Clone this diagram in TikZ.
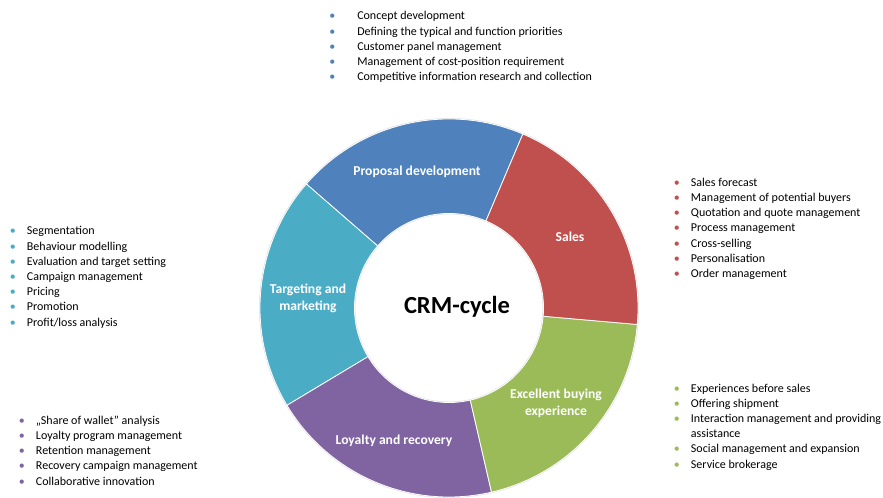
\documentclass[tikz,border=0pt]{standalone}
\usepackage{fontspec}
\setmainfont{Carlito}
\usepackage{xcolor}
\usepackage{tikz}
\usetikzlibrary{positioning}

\definecolor{propblue}{HTML}{4F81BD}
\definecolor{salesred}{HTML}{C0504D}
\definecolor{buygreen}{HTML}{9BBB59}
\definecolor{loyalpurple}{HTML}{8064A2}
\definecolor{targetcyan}{HTML}{4BACC6}

% ring radii
\newcommand{\ringout}{141.75pt}
\newcommand{\ringin}{70.9pt}

% one bullet line: [box width]{bullet colour}{text}
\newcommand{\itm}[3][21pt]{\makebox[#1][c]{\textcolor{#2}{\textbullet}}#3}

% one piece of the ring: {start angle}{end angle}{colour}
\newcommand{\ringpiece}[3]{%
  \fill[#3, seg] (#1:\ringout) arc[start angle=#1, end angle=#2, radius=\ringout]
    -- (#2:\ringin) arc[start angle=#2, end angle=#1, radius=\ringin] -- cycle;}

\begin{document}
\begin{tikzpicture}[
  x=0.75pt, y=0.75pt,
  seg/.style={draw=white, line width=0.6pt},
  seglbl/.style={text=white, align=center,
    font=\fontsize{10.2}{12.9}\selectfont\bfseries},
  hub/.style={font=\fontsize{18.4}{22}\selectfont\bfseries},
  blist/.style={anchor=north west, inner sep=0pt, align=left,
    font=\fontsize{9}{11.4}\selectfont}
]
\useasboundingbox (0,0) rectangle (883,498);

% CRM ring
\begin{scope}[shift={(449,190)}]
  \draw[black!12, line width=1.4pt] (0,0) circle[radius=\ringout];
  \draw[black!12, line width=1.4pt] (0,0) circle[radius=\ringin];
  \ringpiece{67}{139}{propblue}
  \ringpiece{139}{211}{targetcyan}
  \ringpiece{211}{283}{loyalpurple}
  \ringpiece{283}{355}{buygreen}
  \ringpiece{355}{427}{salesred}
\end{scope}

\node[hub] (crm) at (457,191) {CRM-cycle};

\node[seglbl] (prop) at (417,326) {Proposal development};
\node[seglbl] (sales) at (570,261) {Sales};
\node[seglbl] (buy) at (556,95) {Excellent buying\\experience};
\node[seglbl] (loyal) at (394,57) {Loyalty and recovery};
\node[seglbl] (target) at (308,200) {Targeting and\\marketing};

% activity lists
\node[blist] (proplist) at (307,486.6) {%
  \itm[37.5pt]{propblue}{Concept development}\\
  \itm[37.5pt]{propblue}{Defining the typical and function priorities}\\
  \itm[37.5pt]{propblue}{Customer panel management}\\
  \itm[37.5pt]{propblue}{Management of cost-position requirement}\\
  \itm[37.5pt]{propblue}{Competitive information research and collection}};

\node[blist] (saleslist) at (662.7,320.2) {%
  \itm{salesred}{Sales forecast}\\
  \itm{salesred}{Management of potential buyers}\\
  \itm{salesred}{Quotation and quote management}\\
  \itm{salesred}{Process management}\\
  \itm{salesred}{Cross-selling}\\
  \itm{salesred}{Personalisation}\\
  \itm{salesred}{Order management}};

\node[blist] (buylist) at (662.7,114.4) {%
  \itm{buygreen}{Experiences before sales}\\
  \itm{buygreen}{Offering shipment}\\
  \itm{buygreen}{Interaction management and providing}\\
  \makebox[21pt]{}assistance\\
  \itm{buygreen}{Social management and expansion}\\
  \itm{buygreen}{Service brokerage}};

\node[blist] (loyallist) at (7.7,82.4) {%
  \itm{loyalpurple}{„Share of wallet” analysis}\\
  \itm{loyalpurple}{Loyalty program management}\\
  \itm{loyalpurple}{Retention management}\\
  \itm{loyalpurple}{Recovery campaign management}\\
  \itm{loyalpurple}{Collaborative innovation}};

\node[blist] (targetlist) at (-1.3,271.6) {%
  \itm{targetcyan}{Segmentation}\\
  \itm{targetcyan}{Behaviour modelling}\\
  \itm{targetcyan}{Evaluation and target setting}\\
  \itm{targetcyan}{Campaign management}\\
  \itm{targetcyan}{Pricing}\\
  \itm{targetcyan}{Promotion}\\
  \itm{targetcyan}{Profit/loss analysis}};

\end{tikzpicture}
\end{document}
